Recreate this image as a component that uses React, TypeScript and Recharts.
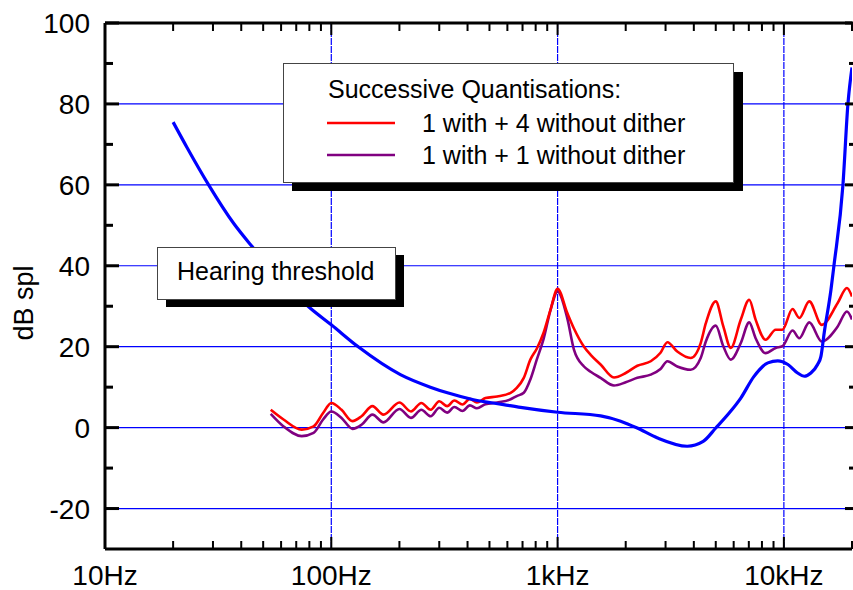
import React from 'react';
import { LineChart, Line, XAxis, YAxis, ReferenceLine } from 'recharts';

// Absolute hearing threshold (Hz, dB SPL)
const thresholdHz = [
  20, 23, 28.7, 37, 44.6, 80.8, 100, 132, 202, 274, 326, 425, 577, 686, 1000, 1549, 1900, 2250, 2750, 3740,
  4400, 5000, 5730, 6450, 7367, 8497, 9400, 10420, 11500, 12300, 13160, 14090, 14580, 15070, 16140, 16640,
  18240, 19190, 20000,
];
const thresholdDb = [
  75.5, 69.3, 60, 50.5, 44.8, 29.5, 25.4, 19.9, 13.1, 10.0, 8.6, 6.9, 5.7, 5.0, 3.8, 2.9, 1.6, -0.1, -2.5, -4.6,
  -3.4, -0.1, 3.6, 7.3, 12.6, 16.0, 16.5, 15.6, 13.5, 12.7, 13.5, 15.6, 17.6, 23.4, 34, 40,
  60, 80, 89,
];

// Noise spectra after successive requantisation, shared frequency grid
const noiseHz = [
  54, 61.5, 74, 83.5, 92, 100, 111, 124, 136, 152, 170, 200, 225, 250, 275, 300, 325, 350, 380, 410,
  440, 480, 541, 620, 660, 709, 758, 809, 868, 930, 1000, 1104, 1181, 1308, 1400, 1549, 1775, 2000, 2252, 2580,
  2850, 3057, 3380, 3875, 4290, 4520, 5000, 5400, 5826, 6452, 7027, 7500, 8300, 9200, 9850, 10920, 11700, 12950,
  14700, 17290, 19000, 20000,
];
const fourPassDb = [
  4.4, 2.0, -0.5, 0.3, 3.6, 6.1, 4.4, 1.6, 2.8, 5.3, 3.2, 6.2, 4.0, 6.1, 4.4, 6.5, 5.3, 6.7, 5.7, 7.1,
  6.2, 7.3, 7.7, 8.6, 9.8, 12.3, 16.8, 19.5, 23.5, 29.1, 34.3, 28.3, 24.5, 20.0, 18.0, 15.6, 12.4, 13.5, 15.3, 16.4,
  18.5, 21.1, 18.8, 17.2, 20.9, 25.8, 31.2, 25.0, 19.7, 26.7, 31.6, 26.7, 21.7, 24.2, 24.2, 29.3, 27.1, 31.2,
  25.4, 30.8, 34.5, 32.4,
];
const onePassDb = [
  3.4, 0.3, -2.1, -1.3, 2.0, 4.0, 2.4, -0.3, 0.7, 3.2, 1.3, 4.6, 2.4, 4.4, 2.8, 4.9, 3.7, 5.1, 4.1, 5.5,
  4.8, 5.8, 6.2, 7.0, 7.8, 8.6, 11.9, 16.8, 22.0, 29.0, 33.6, 27.0, 19.3, 15.1, 13.8, 12.3, 10.4, 11.2, 12.3, 13.1,
  14.5, 16.4, 15.1, 14.3, 17.2, 21.3, 25.2, 20.1, 16.8, 20.9, 26.0, 22.1, 18.4, 19.7, 20.1, 24.0, 22.1, 26.0,
  21.3, 25.0, 28.7, 26.7,
];

const seriesNames = ['1 with + 4 without dither', '1 with + 1 without dither'];
const seriesColors = ['#ff0000', '#800080'];
const legendTitle = 'Successive Quantisations:';
const thresholdLabel = 'Hearing threshold';
const yLabel = 'dB spl';

const xTicks = [
  10, 20, 30, 40, 50, 60, 70, 80, 90,
  100, 200, 300, 400, 500, 600, 700, 800, 900,
  1000, 2000, 3000, 4000, 5000, 6000, 7000, 8000, 9000,
  10000, 20000,
];
const xMajor = [10, 100, 1000, 10000];
const xLabels = ['10Hz', '100Hz', '1kHz', '10kHz'];
const yTicks = [-20, -10, 0, 10, 20, 30, 40, 50, 60, 70, 80, 90, 100];
const yGridDb = [-20, 0, 20, 40, 60, 80];
const xGridHz = [100, 1000, 10000];
const X_DOMAIN = [10, 20000];
const Y_DOMAIN = [-30, 100];

const W = 853;
const H = 590;
const PLOT_LEFT = 105;
const PLOT_RIGHT = 852;
const PLOT_TOP = 23;
const PLOT_BOTTOM = 549;
const FONT = '"Liberation Sans", Arial, Helvetica, sans-serif';

const toPoints = (hz: number[], db: number[]) => hz.map((f, i) => ({ f, db: db[i] }));

const thresholdData = toPoints(thresholdHz, thresholdDb);
const fourPassData = toPoints(noiseHz, fourPassDb);
const onePassData = toPoints(noiseHz, onePassDb);

// same mapping as the chart axes, used for the inward tick marks on all four sides
const xPx = (f: number) =>
  PLOT_LEFT +
  ((PLOT_RIGHT - PLOT_LEFT) * Math.log10(f / X_DOMAIN[0])) / Math.log10(X_DOMAIN[1] / X_DOMAIN[0]);
const yPx = (v: number) =>
  PLOT_BOTTOM - ((PLOT_BOTTOM - PLOT_TOP) * (v - Y_DOMAIN[0])) / (Y_DOMAIN[1] - Y_DOMAIN[0]);

const XTick = (props: any) => {
  const { x, payload } = props;
  const idx = xMajor.indexOf(payload.value);
  if (idx < 0) return <g />;
  return (
    <text x={x} y={PLOT_BOTTOM + 36} textAnchor="middle" fontSize={28} fill="#000">
      {xLabels[idx]}
    </text>
  );
};

const YTick = (props: any) => {
  const { y, payload } = props;
  if (payload.value % 20 !== 0) return <g />;
  return (
    <text x={90} y={y + 10} textAnchor="end" fontSize={28} fill="#000">
      {payload.value}
    </text>
  );
};

// tick marks as filled rects: bottom/top pointing into the plot, left/right likewise
const TickMarks = () => (
  <g fill="#000">
    {xTicks.map((f) => {
      const x = xPx(f);
      const len = xMajor.includes(f) ? 12 : 8;
      return (
        <g key={`x${f}`}>
          <rect x={x - 1} y={PLOT_BOTTOM - len} width={2} height={len} />
          <rect x={x - 1} y={PLOT_TOP} width={2} height={len} />
        </g>
      );
    })}
    {yTicks.map((v) => {
      const y = yPx(v);
      const len = v % 20 === 0 ? 14 : 8;
      return (
        <g key={`y${v}`}>
          <rect x={PLOT_LEFT} y={y - 1.5} width={len} height={3} />
          <rect x={W - (v % 20 === 0 ? 8 : 4)} y={y - 1.5} width={v % 20 === 0 ? 8 : 4} height={3} />
        </g>
      );
    })}
  </g>
);

export default function App() {
  return (
    <div style={{ position: 'absolute', left: 0, top: 0, width: W, height: H, background: '#fff', fontFamily: FONT }}>
      <LineChart width={W} height={H} margin={{ top: PLOT_TOP, right: W - PLOT_RIGHT, bottom: 0, left: 0 }}>
        <XAxis
          dataKey="f"
          type="number"
          scale="log"
          domain={X_DOMAIN}
          allowDataOverflow
          ticks={xTicks}
          interval={0}
          height={H - PLOT_BOTTOM}
          tickLine={false}
          tick={XTick}
          axisLine={{ stroke: '#000', strokeWidth: 3 }}
        />
        <YAxis
          type="number"
          domain={Y_DOMAIN}
          allowDataOverflow
          ticks={yTicks}
          interval={0}
          width={PLOT_LEFT}
          tickLine={false}
          tick={YTick}
          axisLine={{ stroke: '#000', strokeWidth: 3 }}
        />
        {yGridDb.map((v) => (
          <ReferenceLine key={`h${v}`} y={v} stroke="#0000ff" strokeWidth={1.2} />
        ))}
        {xGridHz.map((v) => (
          <ReferenceLine key={`v${v}`} x={v} stroke="#0000ff" strokeWidth={1.2} strokeDasharray="7 1" />
        ))}
        <ReferenceLine y={100} stroke="#000" strokeWidth={3} />
        <Line
          data={onePassData}
          dataKey="db"
          type="monotone"
          stroke={seriesColors[1]}
          strokeWidth={2.6}
          dot={false}
          isAnimationActive={false}
        />
        <Line
          data={fourPassData}
          dataKey="db"
          type="monotone"
          stroke={seriesColors[0]}
          strokeWidth={2.6}
          dot={false}
          isAnimationActive={false}
        />
        <Line
          data={thresholdData}
          dataKey="db"
          type="monotone"
          stroke="#0000ff"
          strokeWidth={3.2}
          dot={false}
          isAnimationActive={false}
        />
      </LineChart>

      {/* tick marks, axis title and the two annotation boxes */}
      <svg
        width={W}
        height={H}
        style={{ position: 'absolute', left: 0, top: 0, pointerEvents: 'none' }}
      >
        <TickMarks />

        <text transform="translate(33,303) rotate(-90)" textAnchor="middle" fontSize={27} fill="#000">
          {yLabel}
        </text>

        <rect x={166} y={255} width={238} height={52} fill="#000" />
        <rect x={157.5} y={247.5} width={238} height={52} fill="#fff" stroke="#444" strokeWidth={1} />
        <text x={177} y={280} fontSize={25} fill="#000">
          {thresholdLabel}
        </text>

        <rect x={292} y={72} width={451} height={119} fill="#000" />
        <rect x={283.5} y={63.5} width={450} height={119} fill="#fff" stroke="#444" strokeWidth={1} />
        <text x={328} y={98} fontSize={25} fill="#000">
          {legendTitle}
        </text>
        {seriesNames.map((name, i) => (
          <g key={name}>
            <line x1={327} x2={395} y1={123 + i * 32} y2={123 + i * 32} stroke={seriesColors[i]} strokeWidth={2.6} />
            <text x={422} y={132 + i * 32} fontSize={25} fill="#000">
              {name}
            </text>
          </g>
        ))}
      </svg>
    </div>
  );
}
